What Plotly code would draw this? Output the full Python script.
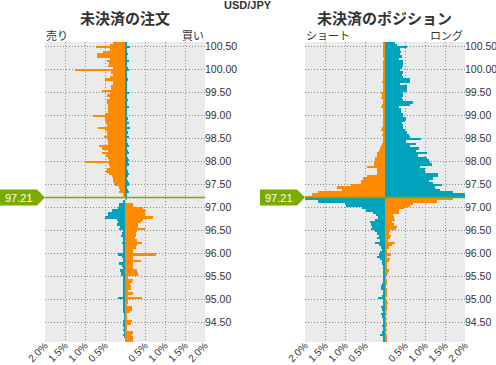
import plotly.graph_objects as go

# ---------------- data ----------------
title_main = "USD/JPY"
title_orders = "未決済の注文"
title_positions = "未決済のポジション"
current_price = 97.21

# price levels (lower bound of each 0.05 bucket), top to bottom
price_levels = [
    100.55, 100.50, 100.45, 100.40, 100.35, 100.30, 100.25, 100.20, 100.15, 100.10,
    100.05, 100.00, 99.95, 99.90, 99.85, 99.80, 99.75, 99.70, 99.65, 99.60,
    99.55, 99.50, 99.45, 99.40, 99.35, 99.30, 99.25, 99.20, 99.15, 99.10,
    99.05, 99.00, 98.95, 98.90, 98.85, 98.80, 98.75, 98.70, 98.65, 98.60,
    98.55, 98.50, 98.45, 98.40, 98.35, 98.30, 98.25, 98.20, 98.15, 98.10,
    98.05, 98.00, 97.95, 97.90, 97.85, 97.80, 97.75, 97.70, 97.65, 97.60,
    97.55, 97.50, 97.45, 97.40, 97.35, 97.30, 97.25, 97.20,
    97.15, 97.10, 97.05, 97.00, 96.95, 96.90, 96.85, 96.80, 96.75, 96.70,
    96.65, 96.60, 96.55, 96.50, 96.45, 96.40, 96.35, 96.30, 96.25, 96.20,
    96.15, 96.10, 96.05, 96.00, 95.95, 95.90, 95.85, 95.80, 95.75, 95.70,
    95.65, 95.60, 95.55, 95.50, 95.45, 95.40, 95.35, 95.30, 95.25, 95.20,
    95.15, 95.10, 95.05, 95.00, 94.95, 94.90, 94.85, 94.80, 94.75, 94.70,
    94.65, 94.60, 94.55, 94.50, 94.45, 94.40, 94.35, 94.30, 94.25, 94.20,
    94.15, 94.10, 94.05,
]

# open orders, % (sell side drawn to the left, buy side to the right)
orders_sell = [
    0.30,
    0.375, 0.725, 0.375, 0.54, 0.71, 0.71, 0.375, 0.44, 0.39, 0.42,
    0.29, 1.25, 0.36, 0.29, 0.375, 0.50, 0.29, 0.31, 0.35, 0.35,
    0.575, 0.375, 0.44, 0.375, 0.46, 0.44, 0.42, 0.43, 0.42, 0.43,
    0.50, 0.79, 0.50, 0.50, 0.475, 0.46, 0.67, 0.50, 0.46, 0.46,
    0.525, 0.46, 0.42, 0.42, 0.65, 0.58, 0.42, 0.58, 0.475, 0.425,
    0.41, 1.00, 0.39, 0.375, 0.46, 0.475, 0.39, 0.33, 0.31, 0.29,
    0.275, 0.24, 0.14, 0.125, 0.14, 0.06, 0.025,
    0.00, 0.03, 0.14, 0.15, 0.17, 0.33, 0.42, 0.42, 0.50, 0.19,
    0.17, 0.19, 0.125, 0.14, 0.04, 0.08, 0.10, 0.06, 0.05, 0.07,
    0.06, 0.04, 0.05, 0.03, 0.17, 0.08, 0.06, 0.05, 0.15, 0.07,
    0.06, 0.12, 0.09, 0.11, 0.04, 0.04, 0.06, 0.04, 0.03, 0.03,
    0.03, 0.04, 0.03, 0.18, 0.03, 0.03, 0.03, 0.06, 0.05, 0.03,
    0.02, 0.02, 0.01, 0.03, 0.03, 0.03, 0.02, 0.03, 0.01, 0.03,
    0.01, 0.00, 0.00,
]
orders_buy = [
    0.05,
    0.06, 0.12, 0.05, 0.04, 0.08, 0.05, 0.04, 0.10, 0.04, 0.05,
    0.08, 0.10, 0.06, 0.04, 0.05, 0.08, 0.05, 0.04, 0.06, 0.05,
    0.05, 0.10, 0.04, 0.06, 0.08, 0.05, 0.05, 0.10, 0.06, 0.04,
    0.06, 0.05, 0.08, 0.05, 0.10, 0.06, 0.12, 0.05, 0.08, 0.05,
    0.10, 0.06, 0.05, 0.08, 0.10, 0.06, 0.08, 0.10, 0.06, 0.08,
    0.10, 0.08, 0.10, 0.06, 0.05, 0.08, 0.10, 0.08, 0.06, 0.08,
    0.10, 0.10, 0.06, 0.08, 0.10, 0.06, 0.05,
    0.05, 0.00, 0.21, 0.21, 0.46, 0.50, 0.50, 0.50, 0.69, 0.44,
    0.39, 0.33, 0.33, 0.50, 0.29, 0.275, 0.275, 0.25, 0.29, 0.42,
    0.31, 0.275, 0.19, 0.19, 0.775, 0.19, 0.21, 0.39, 0.19, 0.21,
    0.19, 0.31, 0.32, 0.32, 0.08, 0.19, 0.17, 0.125, 0.14, 0.14,
    0.08, 0.19, 0.08, 0.42, 0.08, 0.08, 0.04, 0.17, 0.17, 0.125,
    0.06, 0.04, 0.04, 0.17, 0.14, 0.04, 0.04, 0.06, 0.19, 0.17,
    0.19, 0.19, 0.19,
]

# open positions, % (short side to the left, long side to the right)
positions_short = [
    0.04,
    0.04, 0.03, 0.05, 0.04, 0.03, 0.04, 0.02, 0.04, 0.03, 0.05,
    0.06, 0.04, 0.05, 0.03, 0.04, 0.05, 0.08, 0.06, 0.04, 0.05,
    0.06, 0.10, 0.08, 0.10, 0.04, 0.06, 0.08, 0.10, 0.06, 0.04,
    0.05, 0.04, 0.06, 0.04, 0.06, 0.05, 0.08, 0.10, 0.06, 0.08,
    0.06, 0.05, 0.06, 0.08, 0.10, 0.125, 0.15, 0.19, 0.21, 0.25,
    0.25, 0.27, 0.27, 0.44, 0.21, 0.21, 0.21, 0.46, 0.54, 0.60,
    0.60, 0.86, 1.21, 1.08, 1.68, 1.83, 2.10,
    2.10, 1.67, 1.00, 0.98, 0.58, 0.48, 0.30, 0.22, 0.18, 0.25,
    0.38, 0.36, 0.33, 0.35, 0.25, 0.20, 0.15, 0.20, 0.13, 0.25,
    0.14, 0.10, 0.08, 0.12, 0.15, 0.20, 0.12, 0.08, 0.07, 0.05,
    0.04, 0.05, 0.03, 0.04, 0.05, 0.06, 0.04, 0.08, 0.10, 0.10,
    0.06, 0.05, 0.08, 0.17, 0.06, 0.04, 0.06, 0.10, 0.08, 0.06,
    0.10, 0.08, 0.06, 0.04, 0.05, 0.08, 0.06, 0.05, 0.08, 0.12,
    0.06, 0.04, 0.03,
]
positions_long = [
    0.25,
    0.29, 0.54, 0.375, 0.39, 0.375, 0.42, 0.36, 0.44, 0.44, 0.46,
    0.42, 0.375, 0.46, 0.42, 0.44, 0.625, 0.625, 0.375, 0.56, 0.56,
    0.56, 0.46, 0.44, 0.42, 0.46, 0.69, 0.625, 0.36, 0.39, 0.39,
    0.44, 0.44, 0.52, 0.50, 0.42, 0.46, 0.46, 0.50, 0.56, 0.60,
    0.625, 0.89, 0.52, 0.775, 0.625, 0.84, 0.775, 1.04, 0.83, 1.04,
    1.09, 1.125, 1.17, 0.875, 1.00, 1.00, 1.33, 1.33, 1.21, 1.11,
    1.21, 1.42, 1.25, 1.375, 1.71, 2.10, 2.10,
    1.70, 1.29, 0.71, 0.62, 0.47, 0.35, 0.36, 0.20, 0.22, 0.25,
    0.18, 0.22, 0.30, 0.27, 0.12, 0.10, 0.15, 0.12, 0.08, 0.25,
    0.18, 0.10, 0.05, 0.06, 0.15, 0.06, 0.12, 0.10, 0.04, 0.03,
    0.05, 0.10, 0.08, 0.03, 0.02, 0.03, 0.05, 0.04, 0.02, 0.03,
    0.04, 0.05, 0.03, 0.02, 0.03, 0.07, 0.04, 0.05, 0.03, 0.02,
    0.04, 0.02, 0.03, 0.02, 0.04, 0.03, 0.02, 0.03, 0.02, 0.04,
    0.05, 0.03, 0.04,
]

x_tickvals = [-2.0, -1.5, -1.0, -0.5, 0.0, 0.5, 1.0, 1.5, 2.0]
x_ticktext = ["2.0%", "1.5%", "1.0%", "0.5%", "", "0.5%", "1.0%", "1.5%", "2.0%"]
y_tickvals = [94.5, 95.0, 95.5, 96.0, 96.5, 97.0, 97.5, 98.0, 98.5, 99.0, 99.5, 100.0, 100.5]

# ---------------- style ----------------
ORANGE = "#ff8a00"
TEAL = "#00a3be"
GREEN = "#7aab00"
BG = "#ebebeb"
TXT = "#333333"
GRID = "#8c8c8c"
DOT = "1px,2px"
W, H = 496, 365

BUCKET = 0.05
centers = [p + BUCKET / 2 for p in price_levels]
above = [(p + BUCKET / 2) > current_price for p in price_levels]
left_colors = [ORANGE if a else TEAL for a in above]
right_colors = [TEAL if a else ORANGE for a in above]

fig = go.Figure()

def add_panel(left_vals, right_vals, xa, ya):
    fig.add_trace(go.Bar(y=centers, x=[-v for v in left_vals], orientation="h",
                         width=BUCKET, marker=dict(color=left_colors, line=dict(width=0)),
                         xaxis=xa, yaxis=ya, hoverinfo="skip"))
    fig.add_trace(go.Bar(y=centers, x=right_vals, orientation="h",
                         width=BUCKET, marker=dict(color=right_colors, line=dict(width=0)),
                         xaxis=xa, yaxis=ya, hoverinfo="skip"))

add_panel(orders_sell, orders_buy, "x", "y")
add_panel(positions_short, positions_long, "x2", "y2")

y_top_px, y_bot_px = 42, 342
ydom = [1 - y_bot_px / H, 1 - y_top_px / H]
yrange = [94.07, 100.59]

NARROW = "Liberation Sans Narrow, Arial Narrow, Arial, sans-serif"
axis_font = dict(family=NARROW, size=10.5, color=TXT)

def xaxis(dom, anchor):
    return dict(domain=dom, anchor=anchor, range=[-2.0, 2.0], tickvals=x_tickvals,
                ticktext=x_ticktext, tickangle=-45, showgrid=True, gridcolor=GRID,
                griddash=DOT, gridwidth=1, zeroline=False, showline=False, ticks="",
                automargin=False, ticklabelstandoff=-5,
                tickfont=dict(family="Arial, Liberation Sans, sans-serif", size=10, color=TXT),
                fixedrange=True)

def yaxis(anchor):
    return dict(domain=ydom, anchor=anchor, range=yrange, side="right", tickvals=y_tickvals,
                tickformat=".2f", showgrid=True, gridcolor=GRID, griddash=DOT,
                gridwidth=1, zeroline=False, showline=False, ticks="", tickfont=axis_font,
                ticklabelstandoff=-1, automargin=False, fixedrange=True)

fig.update_layout(
    width=W, height=H, autosize=False,
    margin=dict(l=0, r=0, t=0, b=0, autoexpand=False),
    paper_bgcolor="white", plot_bgcolor=BG,
    barmode="overlay", bargap=0, showlegend=False,
    xaxis=xaxis([45 / W, 205 / W], "y"),
    yaxis=yaxis("x"),
    xaxis2=xaxis([305 / W, 465 / W], "y2"),
    yaxis2=yaxis("x2"),
)

# current price line and markers
half = 8 / 46.0
for xa, ya, x0, x1 in [("x", "y", 0, 45), ("x2", "y2", 260, 305)]:
    fig.add_shape(type="line", xref=xa + " domain", yref=ya, x0=0, x1=1,
                  y0=current_price, y1=current_price, line=dict(color=GREEN, width=1.5))
    tip = x1 / W
    body = (x1 - 8) / W
    start = x0 / W
    path = (f"M {start},{current_price + half} L {body},{current_price + half} "
            f"L {tip},{current_price} L {body},{current_price - half} "
            f"L {start},{current_price - half} Z")
    fig.add_shape(type="path", xref="paper", yref=ya, path=path,
                  fillcolor=GREEN, line=dict(width=0))
    fig.add_annotation(xref="paper", yref=ya, x=(x0 + x1 - 8) / 2 / W, y=current_price,
                       text=f"{current_price:.2f}", showarrow=False, xanchor="center",
                       yanchor="middle",
                       font=dict(family="Arial, Liberation Sans, sans-serif", size=11, color="white"))

cjk = "Noto Sans CJK JP"
def ann(text, x, y, size, xanchor="center", bold=False, family=cjk):
    fig.add_annotation(xref="paper", yref="paper", x=x / W, y=1 - y / H, text=f"<b>{text}</b>" if bold else text,
                       showarrow=False, xanchor=xanchor, yanchor="middle",
                       font=dict(family=family, size=size, color=TXT))

ann(title_main, 248, 5, 11, bold=True, family="Arial, Liberation Sans, sans-serif")
ann(title_orders, 125, 17, 15, bold=True)
ann(title_positions, 384, 17, 15, bold=True)
ann("売り", 44, 35, 11, xanchor="left")
ann("買い", 206, 35, 11, xanchor="right")
ann("ショート", 304, 35, 11, xanchor="left")
ann("ロング", 465, 35, 11, xanchor="right")

fig.write_html("out.html", config={"displayModeBar": False},
               post_script="document.body.style.margin='0';document.body.style.overflow='hidden';")
